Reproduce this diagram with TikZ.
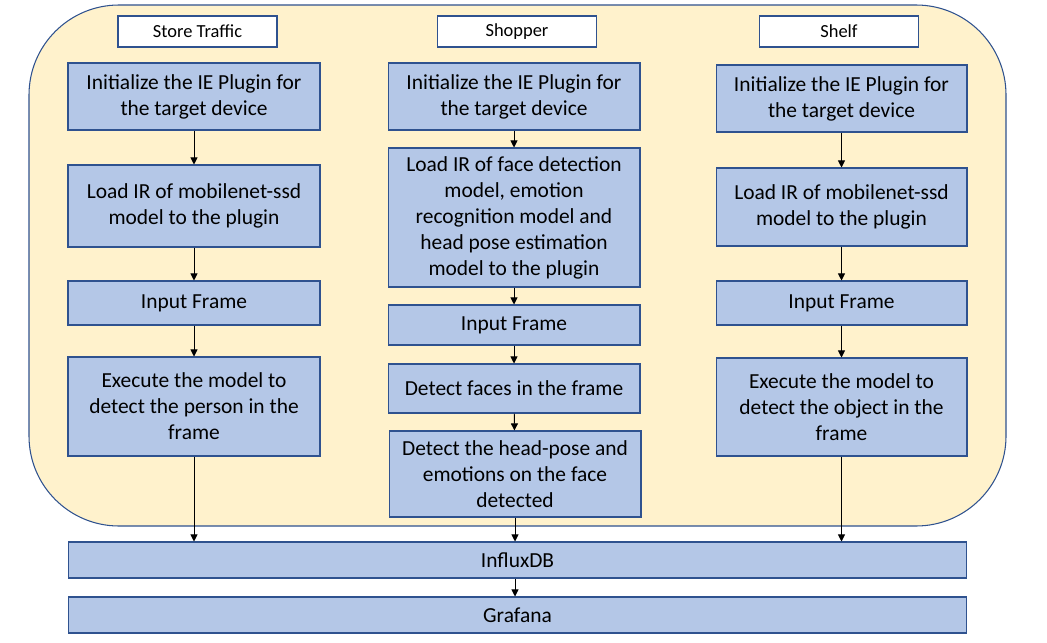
\documentclass[tikz,border=0pt]{standalone}
\usepackage{fontspec}
\setmainfont{Carlito}
\usetikzlibrary{arrows.meta}
\definecolor{boxfill}{HTML}{B4C7E7}
\definecolor{boxline}{HTML}{2F528F}
\definecolor{panel}{HTML}{FFF2CC}
\begin{document}
\begin{tikzpicture}[x=0.02cm,y=-0.02cm,
  stepbox/.style={draw=boxline,fill=boxfill,line width=0.6pt,align=center,
    inner sep=0pt,font=\fontsize{12.2}{14.8}\selectfont},
  headbox/.style={draw=boxline,fill=white,line width=0.6pt,
    minimum width=3.18cm,minimum height=0.62cm,inner sep=0pt,
    font=\fontsize{10.5}{12}\selectfont},
  flow/.style={-{Triangle[length=4pt,width=4pt]},line width=0.5pt}]
\useasboundingbox (0,0) rectangle (1047,642);
\draw [boxline,fill=panel,line width=0.6pt,rounded corners=1.8cm] (29,5) rectangle (1006,526);
% column titles
\node [headbox] (traffic) at (197.5,31.5) {Store Traffic};
\node [headbox] (shopper) at (517,31.5) {Shopper};
\node [headbox] (shelf) at (839,31.5) {Shelf};
% store traffic
\node [stepbox,minimum width=5.04cm,minimum height=1.34cm] (t1) at (194,96.5) {Initialize the IE Plugin for\\the target device};
\node [stepbox,minimum width=5.04cm,minimum height=1.64cm] (t2) at (194,206) {Load IR of mobilenet-ssd\\model to the plugin};
\node [stepbox,minimum width=5.04cm,minimum height=0.88cm] (t3) at (194,303) {Input Frame};
\node [stepbox,minimum width=5.04cm,minimum height=1.98cm] (t4) at (194,406.5) {Execute the model to\\detect the person in the\\frame};
% shopper
\node [stepbox,minimum width=5.04cm,minimum height=1.34cm] (s1) at (514,96.5) {Initialize the IE Plugin for\\the target device};
\node [stepbox,minimum width=5.04cm,minimum height=2.78cm] (s2) at (514,217.5) {Load IR of face detection\\model, emotion\\recognition model and\\head pose estimation\\model to the plugin};
\node [stepbox,minimum width=5.04cm,minimum height=0.8cm] (s3) at (514,325) {Input Frame};
\node [stepbox,minimum width=5.04cm,minimum height=0.98cm] (s4) at (514,388.5) {Detect faces in the frame};
\node [stepbox,minimum width=5.04cm,minimum height=1.72cm] (s5) at (515,474) {Detect the head-pose and\\emotions on the face\\detected};
% shelf
\node [stepbox,minimum width=5.02cm,minimum height=1.34cm] (f1) at (841.5,98.5) {Initialize the IE Plugin for\\the target device};
\node [stepbox,minimum width=5.02cm,minimum height=1.56cm] (f2) at (841.5,207) {Load IR of mobilenet-ssd\\model to the plugin};
\node [stepbox,minimum width=5.02cm,minimum height=0.88cm] (f3) at (841.5,303) {Input Frame};
\node [stepbox,minimum width=5.02cm,minimum height=1.96cm] (f4) at (841.5,407) {Execute the model to\\detect the object in the\\frame};
% storage and dashboard
\node [stepbox,minimum width=17.98cm,minimum height=0.72cm] (db) at (517.5,560) {InfluxDB};
\node [stepbox,minimum width=17.98cm,minimum height=0.72cm] (dash) at (517.5,615) {Grafana};
% arrows
\foreach \a/\b in {t1/t2,t2/t3,t3/t4,s1/s2,s2/s3,s3/s4,s4/s5,f1/f2,f2/f3,f3/f4}
  \draw [flow] (\a) -- (\b);
\draw [flow] (t4.south) -- (t4.south |- db.north);
\draw [flow] (s5.south) -- (s5.south |- db.north);
\draw [flow] (f4.south) -- (f4.south |- db.north);
\draw [flow] (s5.south |- db.south) -- (s5.south |- dash.north);
\end{tikzpicture}
\end{document}
